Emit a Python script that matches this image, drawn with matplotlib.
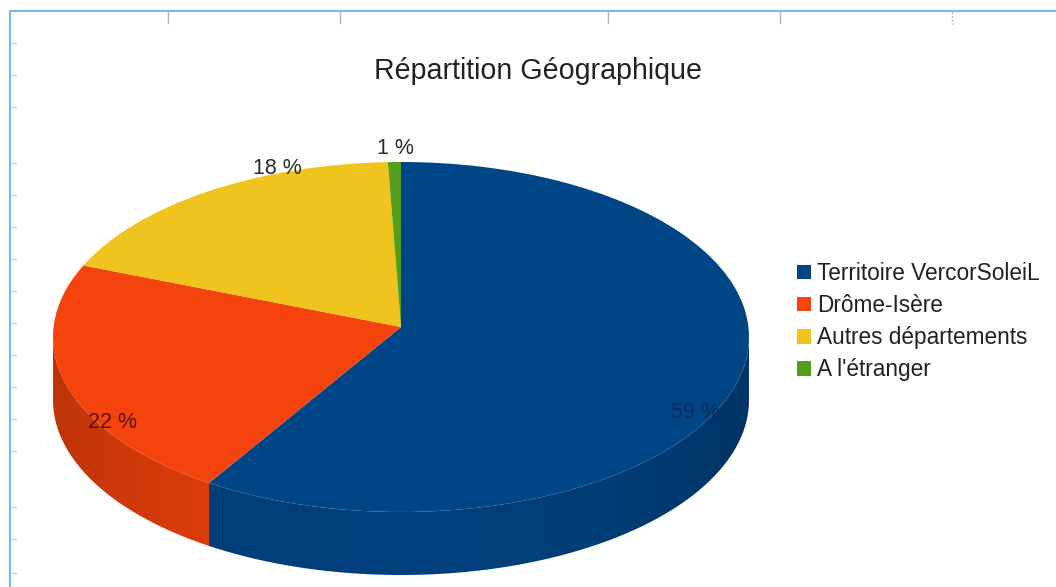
#! /usr/bin/env python3
import numpy as np
import matplotlib
matplotlib.use("Agg")
import matplotlib.pyplot as plt
from matplotlib.path import Path

title = "Répartition Géographique"
categories = ["Territoire VercorSoleiL", "Drôme-Isère", "Autres départements", "A l'étranger"]
values = [59.3, 22.4, 17.7, 0.6]
colors = ["#004586", "#f5430d", "#f0c41e", "#579d1c"]
label_colors = ["#0a2a5c", "#5a1204", "#2a2a2a", "#2a2a2a"]
# label centres in picture pixels
label_px = [(695, 413), (113, 423), (277, 168), (395, 149)]

top_ticks_px = [168, 340, 608, 780]
left_ticks_px = [43, 75, 107, 163, 195, 227, 259, 291, 323, 355, 387, 419, 451, 507, 539, 573]

W, H = 1056, 587
# top ellipse of the pie, in pixels
cx, cy, rx, ry = 401, 337, 348, 175
apex_y = 327
depth_px = 63


def dx(px):
    return (px - cx) / rx


def dy(py):
    return (cy - py) / ry


plt.rcParams['font.family'] = ['Liberation Sans', 'DejaVu Sans']

fig = plt.figure(figsize=(W / 100, H / 100), dpi=100)
ax = fig.add_axes([0, 0, 1, 1])

wedges, texts, autotexts = ax.pie(values, colors=colors, startangle=90, counterclock=False,
                                  radius=1.0, autopct='%.0f %%', wedgeprops={'linewidth': 0, 'zorder': 3})

# perspective: the point where the slices meet sits above the middle of the ellipse
for w in wedges:
    v = w.get_path().vertices
    v[np.hypot(v[:, 0], v[:, 1]) < 1e-6, 1] = dy(apex_y)

ax.axis('off')

# side of the pie, only the part facing us
depth = depth_px / ry
xs = np.linspace(-1, 1, 400)
shade = np.interp(xs, [-1, -0.8, -0.55, 0.1, 0.6, 1], [0.78, 0.84, 0.90, 0.93, 0.88, 0.76])
edges = 90 - np.cumsum([0] + values) * 3.6
for i in range(len(values)):
    a1, a2 = edges[i + 1], edges[i]
    # keep angles between -180 and 0
    a1 = max(a1, -180)
    a2 = min(a2, 0)
    if a2 <= a1:
        continue
    t = np.radians(np.linspace(a1, a2, 200))
    px = np.cos(t)
    py = np.sin(t)
    verts = np.vstack([np.column_stack([px, py]), np.column_stack([px[::-1], py[::-1] - depth])])
    rgb = np.array(matplotlib.colors.to_rgb(colors[i]))
    img = (shade[:, None] * rgb)[None, :, :]
    im = ax.imshow(img, extent=(-1, 1, -2, 1), aspect='auto', zorder=2, interpolation='bilinear')
    im.set_clip_path(Path(verts), ax.transData)

ax.set_aspect('auto')
ax.set_xlim(dx(0), dx(W))
ax.set_ylim(dy(H), dy(0))

for t, pos, c in zip(autotexts, label_px, label_colors):
    t.set_position((dx(pos[0]), dy(pos[1])))
    t.set_ha('center')
    t.set_va('center')
    t.set_fontsize(15.5)
    t.set_color(c)
    t.set_zorder(5)

ax.text(dx(538), dy(71), title, ha='center', va='center', fontsize=20.6, color='#222222')

ax.legend(wedges, categories, loc='upper left', bbox_to_anchor=(788 / W, 1 - 253 / H),
          bbox_transform=fig.transFigure, frameon=False, fontsize=16.3, labelcolor='#222222',
          handlelength=0.62, handleheight=0.62, handletextpad=0.27, labelspacing=0.40,
          borderpad=0.4, borderaxespad=0)

# screenshot frame and ruler marks
ax.plot([dx(10), dx(10), dx(W)], [dy(H), dy(11), dy(11)], color='#6cbcf5', lw=1.5, zorder=6)
for x in top_ticks_px:
    ax.plot([dx(x), dx(x)], [dy(12), dy(23)], color='#b5b5b5', lw=1, zorder=1)
ax.plot([dx(952), dx(952)], [dy(12), dy(24)], color='#999999', lw=1, ls=':', zorder=1)
for y in left_ticks_px:
    ax.plot([dx(12), dx(16)], [dy(y), dy(y)], color='#c4c4c4', lw=0.8, zorder=1)

fig.savefig("out.png", dpi=100)
